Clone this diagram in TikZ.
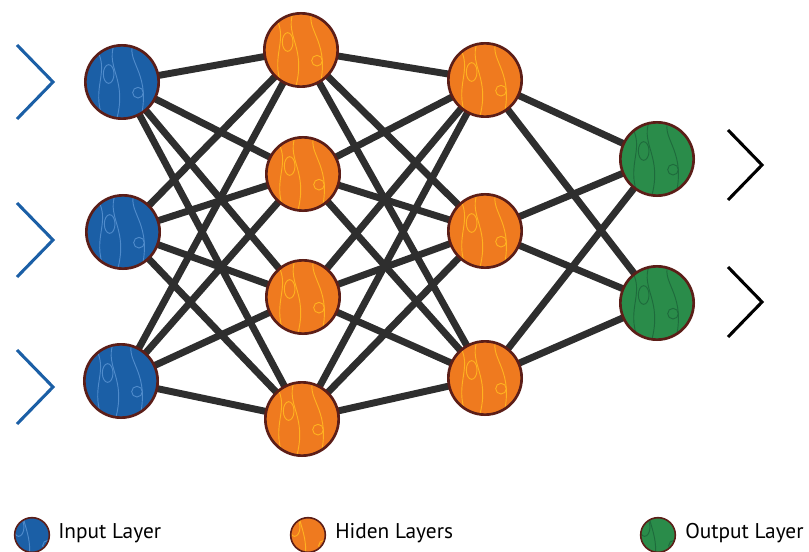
\documentclass[tikz,border=0pt]{standalone}
\usepackage{fontspec}
\setmainfont{PT Sans}
\usetikzlibrary{backgrounds, calc}
\definecolor{inblue}{HTML}{1B5FA6}
\definecolor{hidorange}{HTML}{EF7A1F}
\definecolor{outgreen}{HTML}{2A8C4A}
\definecolor{rim}{HTML}{5C1E18}
\definecolor{wirecol}{HTML}{2E2E2E}
\definecolor{blueline}{HTML}{4F8BCB}
\definecolor{orangeline}{HTML}{FFB21F}
\definecolor{greenline}{HTML}{1E6B3C}
% contour lines inside each neuron
\newcommand{\contours}[1]{%
  \begin{scope}[shift={(path picture bounding box.center)}, color=#1, line width=0.7pt]
    \draw (-20pt,26pt) .. controls (-8pt,8pt) and (-24pt,-4pt) .. (-14pt,-28pt);
    \draw (-6pt,28pt) .. controls (-12pt,10pt) and (4pt,2pt) .. (-4pt,-28pt);
    \draw (8pt,28pt) .. controls (4pt,14pt) and (22pt,6pt) .. (14pt,-28pt);
    \draw (-10pt,6pt) ellipse (4pt and 7pt);
    \draw (12pt,-8pt) circle (4pt);
  \end{scope}}
\tikzset{
    neuron/.style = {circle, draw=rim, line width=2pt, minimum size=55pt, inner sep=0pt},
    inp/.style    = {neuron, fill=inblue, path picture={\contours{blueline}}},
    hid/.style    = {neuron, fill=hidorange, path picture={\contours{orangeline}}},
    outp/.style   = {neuron, fill=outgreen, path picture={\contours{greenline}}},
    key/.style    = {circle, draw=rim, line width=1.2pt, minimum size=26pt, inner sep=0pt},
    wire/.style   = {line width=5.2pt, color=wirecol},
    chev/.style   = {line width=2.3pt},
    legend/.style = {anchor=west, inner sep=0pt, font=\fontsize{16}{18}\selectfont}
}
\begin{document}
\begin{tikzpicture}[x=0.75pt, y=-0.75pt]
    \useasboundingbox (0,0) rectangle (809,552);

    % input layer
    \node (i1) [inp] at (122,82) {};
    \node (i2) [inp] at (123,232) {};
    \node (i3) [inp] at (121,381) {};

    % hidden layers
    \node (h1) [hid] at (301,50) {};
    \node (h2) [hid] at (303,174) {};
    \node (h3) [hid] at (303,297) {};
    \node (h4) [hid] at (302,419) {};

    \node (k1) [hid] at (485,80) {};
    \node (k2) [hid] at (485,231) {};
    \node (k3) [hid] at (485,378) {};

    % output layer
    \node (o1) [outp] at (657,159) {};
    \node (o2) [outp] at (657,303) {};

    % arrows in and out
    \coordinate (a1) at (53,82);
    \coordinate (a2) at (53,240);
    \coordinate (a3) at (53,387);
    \coordinate (b1) at (762,165);
    \coordinate (b2) at (762,302);
    \foreach \c in {a1,a2,a3}
        \draw [chev, color=inblue] ($(\c)+(-36,-37)$) -- (\c) -- ($(\c)+(-36,37)$);
    \foreach \c in {b1,b2}
        \draw [chev, color=black] ($(\c)+(-34,-35)$) -- (\c) -- ($(\c)+(-34,35)$);

    \begin{scope}[on background layer]
        \foreach \a in {i1,i2,i3}
            \foreach \b in {h1,h2,h3,h4}
                \draw [wire] (\a.center) -- (\b.center);
        \foreach \a in {h1,h2,h3,h4}
            \foreach \b in {k1,k2,k3}
                \draw [wire] (\a.center) -- (\b.center);
        \foreach \a in {k1,k2,k3}
            \foreach \b in {o1,o2}
                \draw [wire] (\a.center) -- (\b.center);
    \end{scope}

    % legend
    \node (l1) [key, fill=inblue, path picture={\contours{blueline}}] at (32,535) {};
    \node (t1) [legend] at (58,533) {Input Layer};
    \node (l2) [key, fill=hidorange, path picture={\contours{orangeline}}] at (308,535) {};
    \node (t2) [legend] at (335,533) {Hiden Layers};
    \node (l3) [key, fill=outgreen, path picture={\contours{greenline}}] at (658,535) {};
    \node (t3) [legend] at (685,533) {Output Layer};
\end{tikzpicture}
\end{document}
